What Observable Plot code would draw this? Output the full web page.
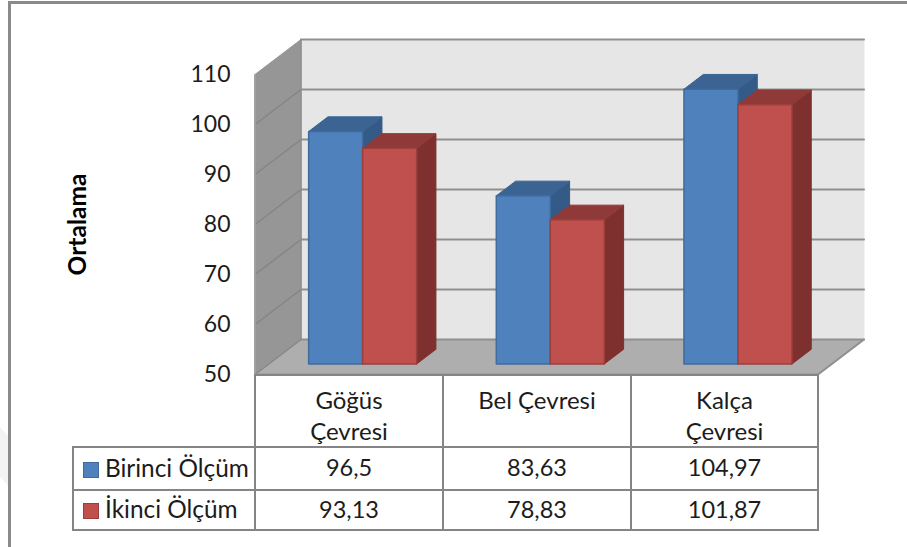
<!DOCTYPE html>
<html lang="tr">
<head>
<meta charset="utf-8">
<script src="https://cdn.jsdelivr.net/npm/d3@7"></script>
<script src="https://cdn.jsdelivr.net/npm/@observablehq/plot@0.6"></script>
<style>
  html, body { margin: 0; background: #fff; }
  #page { position: relative; width: 907px; height: 547px; overflow: hidden; font-family: Lato, sans-serif; color: #1c1c1c; }
  #shade { position: absolute; left: 0; top: 427px; width: 9px; height: 60px; background: #f3f3f3; clip-path: polygon(0 0, 100% 10px, 100% 100%, 0 50px); }
  #frame { position: absolute; left: 8px; top: 1px; width: 910px; height: 560px; border: 3px solid #8a8a8a; box-sizing: border-box; }
  #chart { position: absolute; left: 0; top: 0; }
  #chart svg { display: block; background: transparent; }
  table { position: absolute; left: 72px; top: 374px; border-collapse: collapse; table-layout: fixed; font-size: 23.5px; }
  td { border: 2px solid #858585; text-align: center; padding: 0 0 3px; box-sizing: border-box; }
  td.blank { border-left: none; border-top: none; }
  td.cat { vertical-align: top; padding: 8px 0 0; line-height: 31px; font-size: 24px; }
  td.name { text-align: left; padding-left: 9px; white-space: nowrap; font-size: 24.4px; }
  .swatch { display: inline-block; width: 14px; height: 14px; border: 1px solid; margin-right: 6px; vertical-align: -1px; }
</style>
</head>
<body>
<div id="page">
  <div id="shade"></div>
  <div id="frame"></div>
  <div id="chart"></div>
</div>
<script>
// Mean body measurements at the first and second measuring session
const categories = ["Göğüs Çevresi", "Bel Çevresi", "Kalça Çevresi"];
const categoryLines = [["Göğüs", "Çevresi"], ["Bel Çevresi"], ["Kalça", "Çevresi"]];
const seriesNames = ["Birinci Ölçüm", "İkinci Ölçüm"];
const birinci = [96.5, 83.63, 104.97];
const ikinci = [93.13, 78.83, 101.87];
const yTicks = [50, 60, 70, 80, 90, 100, 110];

const faces = [
  {front: "#4f81bd", top: "#3b6493", side: "#345a87", edge: "#3f6b9f"},
  {front: "#c0504d", top: "#8f3a38", side: "#7d302e", edge: "#9c3f3c"}
];

// Oblique projection: depth 0 is the front of the floor, depth 1 the back wall
const depthX = 0.245;   // in category widths
const depthY = 7;       // in axis units
const project = (x, v, d) => [x + d * depthX, v + d * depthY];

const yMin = yTicks[0], yMax = yTicks[yTicks.length - 1], nCat = categories.length;
const barWidth = 0.2877, barFront = 0.3, barBack = 0.72;

const poly = (points, fill, stroke = fill, strokeWidth = 1) =>
  Plot.line(points, {fill, stroke, strokeWidth, curve: "linear-closed"});
const rule = (points, stroke, strokeWidth = 2) =>
  Plot.line(points, {stroke, strokeWidth});

// One box per value: side and top first, then the front face over them
function box(x0, value, c) {
  const x1 = x0 + barWidth;
  return [
    poly([project(x1, yMin, barFront), project(x1, yMin, barBack), project(x1, value, barBack), project(x1, value, barFront)], c.side),
    poly([project(x0, value, barFront), project(x0, value, barBack), project(x1, value, barBack), project(x1, value, barFront)], c.top),
    poly([project(x0, yMin, barFront), project(x1, yMin, barFront), project(x1, value, barFront), project(x0, value, barFront)], c.front, c.edge, 1.5)
  ];
}

const bars = categories.flatMap((_, i) => {
  const mid = i + 0.5;
  return [
    ...box(mid - barWidth, birinci[i], faces[0]),
    ...box(mid, ikinci[i], faces[1])
  ];
});

const plot = Plot.plot({
  width: 907,
  height: 377,
  marginLeft: 255,
  marginRight: 89,
  marginTop: 0,
  marginBottom: 3,
  x: {type: "linear", domain: [0, nCat], range: [254.5, 817.5], axis: null},
  y: {type: "linear", domain: [yMin, yMax], range: [374, 74], axis: null},
  marks: [
    // back wall, side wall, floor
    poly([project(0, yMin, 1), project(nCat, yMin, 1), project(nCat, yMax, 1), project(0, yMax, 1)], "#e6e6e6"),
    poly([project(0, yMin, 0), project(0, yMin, 1), project(0, yMax, 1), project(0, yMax, 0)], "#969696"),
    poly([project(0, yMin, 0), project(nCat, yMin, 0), project(nCat, yMin, 1), project(0, yMin, 1)], "#aeaeae"),
    // grid lines running along the back wall and down the side wall
    ...yTicks.map(v => rule([project(0, v, 1), project(nCat, v, 1)], "#8f8f8f")),
    ...yTicks.slice(0, -1).map(v => rule([project(0, v, 0), project(0, v, 1)], "#858585", 1.5)),
    rule([project(0, yMin, 1), project(0, yMax, 1)], "#8f8f8f", 1.5),
    rule([project(0, yMin, 0), project(0, yMax, 0)], "#a3a3a3", 1.5),
    rule([project(0, yMin, 0), project(nCat, yMin, 0), project(nCat, yMin, 1)], "#8f8f8f"),
    ...bars,
    Plot.axisY({
      anchor: "left",
      ticks: yTicks,
      tickSize: 0,
      tickPadding: 25,
      fontSize: 23,
      label: null
    }),
    Plot.text(["Ortalama"], {
      x: () => 0,
      y: () => 80,
      dx: -177,
      rotate: -90,
      fontSize: 24.5,
      fontWeight: "bold",
      fill: "#000"
    })
  ],
  style: {fontFamily: "Lato, sans-serif", color: "#1c1c1c", background: "transparent", overflow: "visible"}
});
document.getElementById("chart").append(plot);

// Data table under the chart, its columns lined up with the categories
const fmt = v => String(v).replace(".", ",");
const table = d3.select("#page").append("table");
const cols = table.append("colgroup");
[182, 188, 188, 187].forEach(w => cols.append("col").style("width", w + "px"));

const head = table.append("tr").style("height", "71px");
head.append("td").attr("class", "blank");
categoryLines.forEach(lines => head.append("td").attr("class", "cat").html(lines.join("<br>")));

[birinci, ikinci].forEach((values, s) => {
  const tr = table.append("tr").style("height", s ? "40px" : "43px");
  const name = tr.append("td").attr("class", "name");
  name.append("span").attr("class", "swatch")
    .style("background", faces[s].front).style("border-color", faces[s].edge);
  name.append("span").text(seriesNames[s]);
  values.forEach(v => tr.append("td").text(fmt(v)));
});
</script>
</body>
</html>
